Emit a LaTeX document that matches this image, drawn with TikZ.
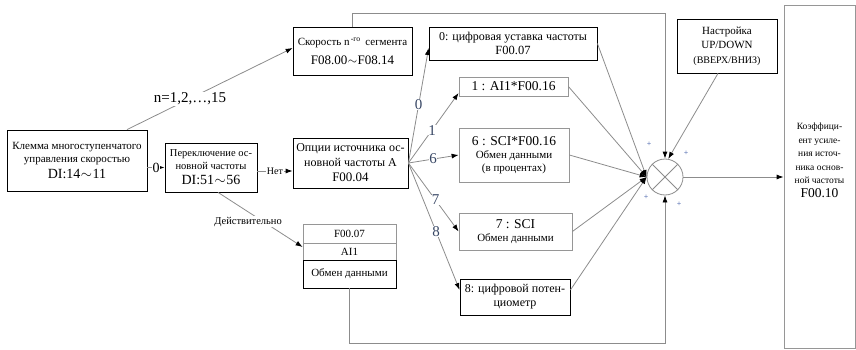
\documentclass[tikz,border=0pt]{standalone}
\usepackage{fontspec}
\setmainfont{Liberation Serif}
\usetikzlibrary{arrows.meta}
\definecolor{lc}{RGB}{140,140,140}
\definecolor{bc}{RGB}{150,150,150}
\definecolor{numc}{RGB}{55,70,100}
\definecolor{plusc}{RGB}{50,80,160}
\newcommand{\fs}[1]{\fontsize{#1}{\fpeval{#1*1.18}}\selectfont}
\newcommand{\wt}{\kern0.5pt$\sim$\kern0.5pt}
\begin{document}
\begin{tikzpicture}[x=1pt,y=-1pt,
 box/.style={draw=black, line width=0.8pt, align=center, inner sep=1pt},
 gbox/.style={draw=bc, line width=0.8pt, align=center, inner sep=1pt},
 ln/.style={draw=lc, line width=0.8pt},
 arr/.style={ln, -{Latex[length=7pt,width=5pt,color=black]}},
 num/.style={text=numc, font=\fs{15}, fill=white, inner sep=0.3pt},
 lab/.style={font=\fs{9}, fill=white, inner sep=0.8pt},
 plus/.style={text=plusc, font=\fs{8}, inner sep=0pt},
]
\useasboundingbox (0,0) rectangle (856,350);
\coordinate (top) at (0,13);
\coordinate (bot) at (0,343);

\node[box, minimum width=140pt, minimum height=61pt, font=\fs{11}] (A) at (77,160.5)
  {Клемма многоступенчатого\\управления скоростью\\[2.5pt]{\fs{14}DI:14\wt11}};
\node[box, minimum width=92pt, minimum height=49pt, font=\fs{10.5}] (B) at (211,167.5)
  {Переключение ос-\\новной частоты\\[3pt]{\fs{14}DI:51\wt56}};
\node[box, minimum width=115pt, minimum height=50pt, font=\fs{12}] (C) at (350.5,163)
  {Опции источника ос-\\новной частоты A\\[1.5pt]{\fs{13}F00.04}};
\node[box, minimum width=119pt, minimum height=48pt, font=\fs{11}] (D) at (352.5,51)
  {Скорость n\textsuperscript{\,-го} \,сегмента\\[6pt]{\fs{13}F08.00\wt F08.14}};
\node[box, minimum width=168pt, minimum height=33pt, font=\fs{12}] (E0) at (513,43.5)
  {0: цифровая уставка частоты\\{\fs{12.5}F00.07}};
\node[gbox, minimum width=109pt, minimum height=19pt, font=\fs{13.5}] (E1) at (513.5,86.5)
  {1 : AI1*F00.16};
\node[gbox, minimum width=110pt, minimum height=54pt, font=\fs{11}] (E6) at (514,155)
  {{\fs{13.5}6 : SCI*F00.16}\\Обмен данными\\(в процентах)};
\node[gbox, minimum width=113pt, minimum height=37pt, font=\fs{11}] (E7) at (515.5,231.5)
  {{\fs{13.5}7 : SCI}\\Обмен данными};
\node[box, minimum width=110pt, minimum height=36pt, font=\fs{12}] (E8) at (515,297)
  {8: цифровой потен-\\циометр};
\node[gbox, minimum width=93pt, minimum height=19pt, font=\fs{11}] (F1) at (349.5,233.5) {F00.07};
\node[gbox, minimum width=93pt, minimum height=17pt, font=\fs{11}] (F2) at (349.5,251.5) {AI1};
\node[box, minimum width=93pt, minimum height=28pt, font=\fs{11}] (F3) at (349.5,274) {Обмен данными};
\node[box, minimum width=100pt, minimum height=54pt, font=\fs{11}] (U) at (727,46)
  {Настройка\\[1pt]UP/DOWN\\[2pt]{\fs{10}(ВВЕРХ/ВНИЗ)}};
\node[gbox, minimum width=71pt, minimum height=343pt,
  label={[align=center, font=\fontsize{9.5}{13.5}\selectfont, yshift=16pt]center:{Коэффици-\\ент усиле-\\ния источ-\\ника основ-\\ной частоты\\{\fs{13.5}F00.10}}}] (G) at (819.5,176.5) {};
\node[draw=lc, line width=0.8pt, circle, minimum size=36pt, inner sep=0pt] (S) at (665,177) {};
\draw[ln] (S.45) -- (S.225) (S.135) -- (S.315);

% connectors
\draw[arr] (A.east |- B.west) -- node[lab, font=\fs{14}, inner sep=0.3pt]{0} (B.west);
\draw[arr] ([yshift=-3.5pt]B.east) coordinate (bn) -- node[lab, font=\fs{10}]{Нет} (bn -| C.west);
\draw[arr] ([xshift=50pt]A.north) -- node[lab, font=\fs{15}, pos=0.38]{n=1,2,…,15} ([yshift=3pt]D.west);
\draw[arr] (D.north) -- (D.north |- top) -- (S.north |- top) -- (S.north);

\draw[arr] (C.east) -- node[num, pos=0.51]{0} ([yshift=-4.5pt]E0.west);
\draw[arr] (C.east) -- node[num, pos=0.47]{1} ([yshift=-6.5pt]E1.west);
\draw[arr] (C.east) -- node[num, pos=0.49]{6} (E6.west);
\draw[arr] (C.east) -- node[num, pos=0.54]{7} (E7.west);
\draw[arr] (C.east) -- node[num, pos=0.54]{8} ([yshift=7pt]E8.west);

\draw[arr] (E0.east) -- (S.west);
\draw[arr] (E1.east) -- (S.west);
\draw[arr] (E6.east) -- (S.west);
\draw[arr] (E7.east) -- (S.west);
\draw[arr] ([yshift=7pt]E8.east) -- (S.west);

\draw[arr] ([xshift=7pt]B.south) -- node[lab, font=\fs{10.5}, pos=0.45, xshift=-8pt, yshift=-5pt]{Действительно} ([yshift=4.5pt]F2.west);
\draw[arr] (F3.south) -- (F3.south |- bot) -- (S.south |- bot) -- (S.south);
\draw[arr] ([xshift=-9pt]U.south) -- (S.80);
\draw[arr] (S.east) -- (S.east -| G.west);

\node[plus] (p1) at (649,144) {+};
\node[plus] (p2) at (686,153) {+};
\node[plus] (p3) at (646,197) {+};
\node[plus] (p4) at (679,204) {+};
\end{tikzpicture}
\end{document}
